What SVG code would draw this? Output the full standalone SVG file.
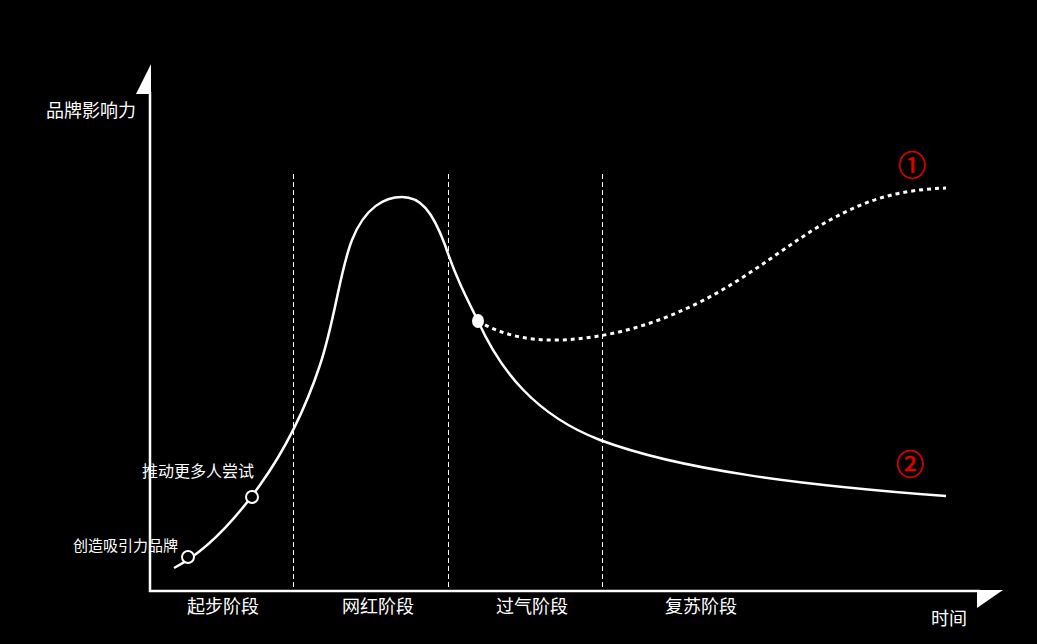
<svg xmlns="http://www.w3.org/2000/svg" width="1037" height="644" viewBox="0 0 1037 644">
<style>
text{font-family:"Liberation Sans","Noto Sans CJK SC",sans-serif;fill:#fff}
.lbl{font-size:18px}
.small{font-size:15px}
.num{font-family:"Liberation Serif","Noto Sans CJK SC",serif;font-size:28px;fill:#e00000;stroke:#e00000;stroke-width:0.5}
.axis{stroke:#fff;stroke-width:2.5;fill:none}
.div{stroke:#fff;stroke-width:1;stroke-dasharray:5 3;fill:none}
.curve{stroke:#fff;stroke-width:2.5;fill:none}
.dotted{stroke:#fff;stroke-width:3;stroke-dasharray:4 4;fill:none}
.ring{fill:#000;stroke:#fff;stroke-width:2}
</style>
<rect width="1037" height="644" fill="#000"/>
<g id="axes">
<line class="axis" x1="150" y1="92" x2="150" y2="592"/>
<polygon points="151,64 136,94 151,94" fill="#fff"/>
<line class="axis" x1="149" y1="591" x2="980" y2="591"/>
<polygon points="977,590 1003,590 977,608" fill="#fff"/>
<text class="lbl" x="46" y="117">品牌影响力</text>
<text class="lbl" x="931" y="625">时间</text>
</g>
<g id="dividers">
<line class="div" x1="293.5" y1="174" x2="293.5" y2="591"/>
<line class="div" x1="448.5" y1="174" x2="448.5" y2="591"/>
<line class="div" x1="602.5" y1="174" x2="602.5" y2="591"/>
</g>
<g id="stages">
<text class="lbl" x="187" y="613">起步阶段</text>
<text class="lbl" x="342" y="613">网红阶段</text>
<text class="lbl" x="496" y="613">过气阶段</text>
<text class="lbl" x="665" y="613">复苏阶段</text>
</g>
<g id="connectors">
<path id="curve2" class="curve" d="M174,568 C205,552 235,520 260,485 C285,450 305,410 320,365 C335,320 340,270 352,240 C365,207 385,197 402,197 C420,197 432,210 445,245 C455,275 465,295 478,321 C500,370 535,415 600,440 C680,470 800,485 946,496"/>
<path id="curve1" class="dotted" d="M478,321 C510,340 545,342 575,339 C620,335 660,322 700,302 C750,277 790,242 830,220 C870,198 900,190 946,188"/>
</g>
<g id="node-attract">
<circle class="ring" cx="188" cy="557" r="6"/>
<text class="small" x="73" y="551">创造吸引力品牌</text>
</g>
<g id="node-try">
<circle class="ring" cx="252" cy="497" r="6"/>
<text class="small" x="142" y="477" style="font-size:16px">推动更多人尝试</text>
</g>
<g id="node-split">
<ellipse cx="478" cy="321" rx="6" ry="7" fill="#fff"/>
</g>
<g id="label1"><text class="num" x="898" y="176">①</text></g>
<g id="label2"><text class="num" x="896" y="475">②</text></g>
</svg>
